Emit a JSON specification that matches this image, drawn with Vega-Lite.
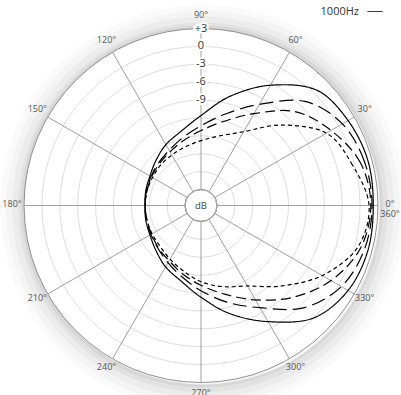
{
  "$schema": "https://vega.github.io/schema/vega-lite/v6.json",
  "width": 354,
  "height": 354,
  "autosize": "none",
  "padding": {"left": 24, "top": 28.5, "right": 23, "bottom": 12.5},
  "background": "white",
  "config": {"view": {"stroke": null}, "font": "Open Sans"},
  "datasets": {
    "curves": [
      {"f": "1000Hz", "a": 0, "db": 2.2}, {"f": "1000Hz", "a": 15, "db": 2.3}, {"f": "1000Hz", "a": 30, "db": 1.8}, {"f": "1000Hz", "a": 45, "db": 0.7},
      {"f": "1000Hz", "a": 60, "db": -3.4}, {"f": "1000Hz", "a": 75, "db": -7.7}, {"f": "1000Hz", "a": 90, "db": -11.6}, {"f": "1000Hz", "a": 105, "db": -13.8},
      {"f": "1000Hz", "a": 120, "db": -14.9}, {"f": "1000Hz", "a": 135, "db": -16.0}, {"f": "1000Hz", "a": 150, "db": -16.8}, {"f": "1000Hz", "a": 165, "db": -17.1},
      {"f": "1000Hz", "a": 180, "db": -17.3}, {"f": "1000Hz", "a": 195, "db": -17.1}, {"f": "1000Hz", "a": 210, "db": -16.8}, {"f": "1000Hz", "a": 225, "db": -16.0},
      {"f": "1000Hz", "a": 240, "db": -14.8}, {"f": "1000Hz", "a": 255, "db": -13.6}, {"f": "1000Hz", "a": 270, "db": -11.3}, {"f": "1000Hz", "a": 285, "db": -7.9},
      {"f": "1000Hz", "a": 300, "db": -4.2}, {"f": "1000Hz", "a": 315, "db": 0.0}, {"f": "1000Hz", "a": 330, "db": 1.8}, {"f": "1000Hz", "a": 345, "db": 2.3},

      {"f": "2000Hz", "a": 0, "db": 2.0}, {"f": "2000Hz", "a": 15, "db": 1.7}, {"f": "2000Hz", "a": 30, "db": 0.7}, {"f": "2000Hz", "a": 45, "db": -2.0},
      {"f": "2000Hz", "a": 60, "db": -7.1}, {"f": "2000Hz", "a": 75, "db": -10.8}, {"f": "2000Hz", "a": 90, "db": -13.3}, {"f": "2000Hz", "a": 105, "db": -14.9},
      {"f": "2000Hz", "a": 120, "db": -16.0}, {"f": "2000Hz", "a": 135, "db": -16.6}, {"f": "2000Hz", "a": 150, "db": -17.0}, {"f": "2000Hz", "a": 165, "db": -17.2},
      {"f": "2000Hz", "a": 180, "db": -17.3}, {"f": "2000Hz", "a": 195, "db": -17.2}, {"f": "2000Hz", "a": 210, "db": -17.0}, {"f": "2000Hz", "a": 225, "db": -16.5},
      {"f": "2000Hz", "a": 240, "db": -15.6}, {"f": "2000Hz", "a": 255, "db": -14.3}, {"f": "2000Hz", "a": 270, "db": -12.4}, {"f": "2000Hz", "a": 285, "db": -9.9},
      {"f": "2000Hz", "a": 300, "db": -6.9}, {"f": "2000Hz", "a": 315, "db": -2.4}, {"f": "2000Hz", "a": 330, "db": 0.5}, {"f": "2000Hz", "a": 345, "db": 1.7},

      {"f": "4000Hz", "a": 0, "db": 1.8}, {"f": "4000Hz", "a": 15, "db": 1.0}, {"f": "4000Hz", "a": 30, "db": -1.5}, {"f": "4000Hz", "a": 45, "db": -4.4},
      {"f": "4000Hz", "a": 60, "db": -8.9}, {"f": "4000Hz", "a": 75, "db": -12.1}, {"f": "4000Hz", "a": 90, "db": -14.1}, {"f": "4000Hz", "a": 105, "db": -15.4},
      {"f": "4000Hz", "a": 120, "db": -16.3}, {"f": "4000Hz", "a": 135, "db": -16.8}, {"f": "4000Hz", "a": 150, "db": -17.1}, {"f": "4000Hz", "a": 165, "db": -17.3},
      {"f": "4000Hz", "a": 180, "db": -17.3}, {"f": "4000Hz", "a": 195, "db": -17.3}, {"f": "4000Hz", "a": 210, "db": -17.1}, {"f": "4000Hz", "a": 225, "db": -16.6},
      {"f": "4000Hz", "a": 240, "db": -16.0}, {"f": "4000Hz", "a": 255, "db": -14.8}, {"f": "4000Hz", "a": 270, "db": -13.3}, {"f": "4000Hz", "a": 285, "db": -11.3},
      {"f": "4000Hz", "a": 300, "db": -8.4}, {"f": "4000Hz", "a": 315, "db": -4.9}, {"f": "4000Hz", "a": 330, "db": -1.5}, {"f": "4000Hz", "a": 345, "db": 1.0},

      {"f": "8000Hz", "a": 0, "db": 1.5}, {"f": "8000Hz", "a": 15, "db": -0.4}, {"f": "8000Hz", "a": 30, "db": -2.4}, {"f": "8000Hz", "a": 45, "db": -7.6},
      {"f": "8000Hz", "a": 60, "db": -12.4}, {"f": "8000Hz", "a": 75, "db": -14.6}, {"f": "8000Hz", "a": 90, "db": -15.8}, {"f": "8000Hz", "a": 105, "db": -16.5},
      {"f": "8000Hz", "a": 120, "db": -16.9}, {"f": "8000Hz", "a": 135, "db": -17.1}, {"f": "8000Hz", "a": 150, "db": -17.3}, {"f": "8000Hz", "a": 165, "db": -17.3},
      {"f": "8000Hz", "a": 180, "db": -17.3}, {"f": "8000Hz", "a": 195, "db": -17.3}, {"f": "8000Hz", "a": 210, "db": -17.2}, {"f": "8000Hz", "a": 225, "db": -17.0},
      {"f": "8000Hz", "a": 240, "db": -16.3}, {"f": "8000Hz", "a": 255, "db": -15.3}, {"f": "8000Hz", "a": 270, "db": -13.9}, {"f": "8000Hz", "a": 285, "db": -12.6},
      {"f": "8000Hz", "a": 300, "db": -11.1}, {"f": "8000Hz", "a": 315, "db": -7.6}, {"f": "8000Hz", "a": 330, "db": -3.2}, {"f": "8000Hz", "a": 345, "db": 0.5}
    ],
    "rings": [{"db": -21}, {"db": -18}, {"db": -15}, {"db": -12}, {"db": -9}, {"db": -6}, {"db": -3}, {"db": 0}],
    "spokes": [
      {"a": 0, "d0": -24, "d1": 3}, {"a": 30, "d0": -24, "d1": 3}, {"a": 60, "d0": -24, "d1": 3}, {"a": 90, "d0": -24, "d1": 3},
      {"a": 120, "d0": -24, "d1": 3}, {"a": 150, "d0": -24, "d1": 3}, {"a": 180, "d0": -24, "d1": 3}, {"a": 210, "d0": -24, "d1": 3},
      {"a": 240, "d0": -24, "d1": 3}, {"a": 270, "d0": -24, "d1": 3}, {"a": 300, "d0": -24, "d1": 3}, {"a": 330, "d0": -24, "d1": 3}
    ],
    "angleLabels": [
      {"a": 0, "t": "0°\n360°"}, {"a": 30, "t": "30°"}, {"a": 60, "t": "60°"}, {"a": 90, "t": "90°"},
      {"a": 120, "t": "120°"}, {"a": 150, "t": "150°"}, {"a": 180, "t": "180°"}, {"a": 210, "t": "210°"},
      {"a": 240, "t": "240°"}, {"a": 270, "t": "270°"}, {"a": 300, "t": "300°"}, {"a": 330, "t": "330°"}
    ],
    "dbLabels": [
      {"a": 90, "db": 3, "t": "+3"}, {"a": 90, "db": 0, "t": "0"}, {"a": 90, "db": -3, "t": "-3"},
      {"a": 90, "db": -6, "t": "-6"}, {"a": 90, "db": -9, "t": "-9"}
    ]
  },
  "layer": [
    {"data": {"values": [{"k": 1}]}, "mark": {"type": "arc", "theta": 0, "theta2": 6.2832, "filled": false, "stroke": "black", "strokeOpacity": 0.02, "strokeWidth": 26, "xOffset": 2, "yOffset": 2}, "encoding": {"radius": {"value": 190}}},
    {"data": {"values": [{"k": 1}]}, "mark": {"type": "arc", "theta": 0, "theta2": 6.2832, "filled": false, "stroke": "black", "strokeOpacity": 0.025, "strokeWidth": 20, "xOffset": 2, "yOffset": 2}, "encoding": {"radius": {"value": 187}}},
    {"data": {"values": [{"k": 1}]}, "mark": {"type": "arc", "theta": 0, "theta2": 6.2832, "filled": false, "stroke": "black", "strokeOpacity": 0.03, "strokeWidth": 14, "xOffset": 2, "yOffset": 2}, "encoding": {"radius": {"value": 184}}},
    {"data": {"values": [{"k": 1}]}, "mark": {"type": "arc", "theta": 0, "theta2": 6.2832, "filled": false, "stroke": "black", "strokeOpacity": 0.04, "strokeWidth": 8, "xOffset": 2, "yOffset": 2}, "encoding": {"radius": {"value": 181}}},
    {"data": {"values": [{"k": 1}]}, "mark": {"type": "arc", "theta": 0, "theta2": 6.2832, "filled": false, "stroke": "black", "strokeOpacity": 0.05, "strokeWidth": 4, "xOffset": 1, "yOffset": 1}, "encoding": {"radius": {"value": 179}}},
    {
      "data": {"values": [{"db": 3}]},
      "mark": {"type": "arc", "theta": 0, "theta2": 6.2832, "fill": "white", "stroke": "#8f8f8f", "strokeWidth": 1},
      "encoding": {
        "radius": {"field": "db", "type": "quantitative", "scale": {"type": "linear", "domain": [-24, 3], "range": [16, 177]}},
        "radius2": {"datum": -24}
      }
    },
    {
      "data": {"name": "rings"},
      "mark": {"type": "arc", "theta": 0, "theta2": 6.2832, "filled": false, "stroke": "#dedede", "strokeWidth": 1},
      "encoding": {
        "radius": {"field": "db", "type": "quantitative", "scale": {"type": "linear", "domain": [-24, 3], "range": [16, 177]}},
        "radius2": {"datum": -24}
      }
    },
    {
      "data": {"name": "spokes"},
      "transform": [
        {"calculate": "16 + (datum.d0 + 24) * 161 / 27", "as": "r0"},
        {"calculate": "16 + (datum.d1 + 24) * 161 / 27", "as": "r1"},
        {"calculate": "datum.r0 * cos(datum.a * PI / 180)", "as": "x0"},
        {"calculate": "datum.r0 * sin(datum.a * PI / 180)", "as": "y0"},
        {"calculate": "datum.r1 * cos(datum.a * PI / 180)", "as": "x1"},
        {"calculate": "datum.r1 * sin(datum.a * PI / 180)", "as": "y1"}
      ],
      "mark": {"type": "rule", "stroke": "#a0a0a0", "strokeWidth": 1},
      "encoding": {
        "x": {"field": "x0", "type": "quantitative", "scale": {"domain": [-177, 177], "nice": false, "zero": false}, "axis": null},
        "y": {"field": "y0", "type": "quantitative", "scale": {"domain": [-177, 177], "nice": false, "zero": false}, "axis": null},
        "x2": {"field": "x1"},
        "y2": {"field": "y1"}
      }
    },
    {
      "data": {"values": [{"db": -24}]},
      "mark": {"type": "arc", "theta": 0, "theta2": 6.2832, "filled": false, "stroke": "#a0a0a0", "strokeWidth": 1},
      "encoding": {
        "radius": {"field": "db", "type": "quantitative", "scale": {"type": "linear", "domain": [-24, 3], "range": [16, 177]}},
        "radius2": {"datum": -24}
      }
    },
    {
      "data": {"values": [{"t": "dB"}]},
      "mark": {"type": "text", "fontSize": 9.5, "color": "#444", "baseline": "middle", "align": "center"},
      "encoding": {"text": {"field": "t"}}
    },
    {
      "data": {"name": "curves"},
      "transform": [
        {"calculate": "16 + (datum.db + 24) * 161 / 27", "as": "r"},
        {"calculate": "datum.r * cos(datum.a * PI / 180)", "as": "x"},
        {"calculate": "datum.r * sin(datum.a * PI / 180)", "as": "y"}
      ],
      "mark": {"type": "line", "interpolate": "cardinal-closed", "stroke": "black", "strokeWidth": 1.2},
      "encoding": {
        "x": {"field": "x", "type": "quantitative", "scale": {"domain": [-177, 177], "nice": false, "zero": false}, "axis": null},
        "y": {"field": "y", "type": "quantitative", "scale": {"domain": [-177, 177], "nice": false, "zero": false}, "axis": null},
        "order": {"field": "a", "type": "quantitative"},
        "strokeDash": {
          "field": "f", "type": "nominal",
          "scale": {"domain": ["8000Hz", "4000Hz", "2000Hz", "1000Hz"], "range": [[4, 3], [10, 5], [14, 6], [1, 0]]},
          "legend": {"orient": "none", "direction": "vertical", "columns": 1, "legendX": 343, "legendY": -70, "title": null, "symbolType": "stroke", "symbolSize": 225,
            "symbolStrokeColor": "black", "symbolStrokeWidth": 1, "labelFontSize": 11, "labelColor": "#333", "labelFont": "Open Sans",
            "labelAlign": "right", "labelOffset": -24, "rowPadding": 2}
        }
      }
    },
    {
      "data": {"name": "angleLabels"},
      "mark": {"type": "text", "fontSize": 9, "color": "#555", "baseline": "middle", "align": "center", "lineBreak": "\n", "lineHeight": 10, "dy": -2},
      "encoding": {
        "theta": {"field": "a", "type": "quantitative", "scale": {"type": "linear", "domain": [0, 360], "range": [1.5708, -4.7124]}},
        "radius": {"value": 189},
        "text": {"field": "t"}
      }
    },
    {
      "data": {"name": "dbLabels"},
      "mark": {"type": "text", "fontSize": 11, "color": "white", "stroke": "white", "strokeWidth": 4, "baseline": "middle", "align": "center"},
      "encoding": {
        "theta": {"field": "a", "type": "quantitative", "scale": {"type": "linear", "domain": [0, 360], "range": [1.5708, -4.7124]}},
        "radius": {"field": "db", "type": "quantitative", "scale": {"type": "linear", "domain": [-24, 3], "range": [16, 177]}},
        "text": {"field": "t"}
      }
    },
    {
      "data": {"name": "dbLabels"},
      "mark": {"type": "text", "fontSize": 11, "color": "#333", "baseline": "middle", "align": "center"},
      "encoding": {
        "theta": {"field": "a", "type": "quantitative", "scale": {"type": "linear", "domain": [0, 360], "range": [1.5708, -4.7124]}},
        "radius": {"field": "db", "type": "quantitative", "scale": {"type": "linear", "domain": [-24, 3], "range": [16, 177]}},
        "text": {"field": "t"}
      }
    }
  ]
}
